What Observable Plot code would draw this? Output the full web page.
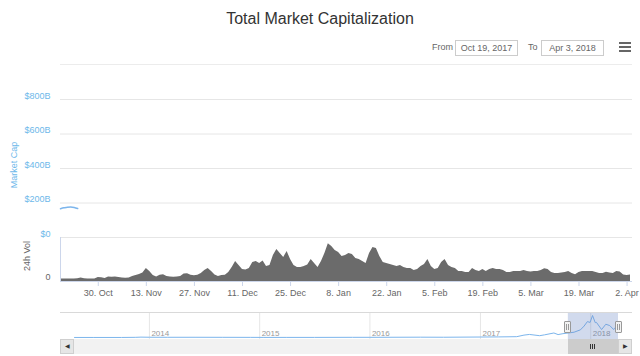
<!DOCTYPE html>
<html><head><meta charset="utf-8">
<script src="https://cdn.jsdelivr.net/npm/d3@7"></script>
<script src="https://cdn.jsdelivr.net/npm/@observablehq/plot@0.6"></script>
<style>
html,body{margin:0;padding:0;background:#fff;}
#chart{position:relative;width:640px;height:356px;overflow:hidden;font-family:"Liberation Sans",Arial,Helvetica,sans-serif;}
#chart svg{position:absolute;left:0;top:0;}
.abs{position:absolute;}
.title{left:0;top:9px;width:640px;text-align:center;font-size:16px;line-height:20px;color:#333;}
.lbl{font-size:9px;color:#666;line-height:15px;}
.box{border:1px solid #ccc;box-sizing:border-box;height:16px;font-size:9px;color:#666;text-align:center;line-height:14px;}
.burger{width:12px;height:2px;background:#666;left:619px;}
.rot{transform:translate(-50%,-50%) rotate(-90deg);font-size:9px;white-space:nowrap;}
</style></head><body><div id="chart"></div>
<script>
// ---- data ----
const rangeStart = "2017-10-19";
const rangeEnd = "2018-04-03";
// daily 24h volume, Oct 19 2017 .. Apr 3 2018 (relative units)
const volume24h = [
2.5,2.4,2.6,2.5,2.4,2.8,3.5,2.8,2.5,2.4,2.6,4.0,3.8,3.0,4.5,4.2,4.6,4.0,3.5,3.3,
3.6,5.0,6.0,7.0,8.5,13.0,10.0,6.0,4.5,6.2,6.7,5.0,4.5,4.3,4.6,5.0,7.5,7.7,6.2,5.8,
6.3,8.0,11.0,13.0,10.0,6.5,5.0,6.0,6.3,9.0,14.0,20.0,16.0,12.0,11.5,13.0,19.0,20.0,18.0,20.5,
15.0,16.0,26.0,32.0,28.0,24.0,30.0,22.0,16.0,14.0,14.0,15.0,16.5,22.0,18.0,14.0,20.0,28.0,37.7,35.0,
31.0,29.0,25.0,26.0,28.0,27.0,23.0,22.0,20.0,18.0,28.0,34.0,33.0,25.0,19.0,18.0,17.0,16.0,15.0,16.0,
14.0,13.0,13.0,11.0,12.0,15.0,17.0,22.0,15.0,12.0,13.0,19.0,22.0,16.0,14.0,13.0,10.0,10.0,9.0,9.0,
13.0,11.0,10.0,12.0,10.0,12.0,13.0,12.0,12.0,11.0,9.0,9.0,10.0,10.0,10.0,11.0,10.0,9.5,10.0,10.0,
11.0,12.7,12.0,9.0,8.0,8.0,8.5,9.0,10.0,8.0,6.7,9.0,10.0,10.0,10.0,10.0,9.0,8.0,8.0,9.3,
8.5,8.0,10.0,9.5,6.5,6.0,6.5];
// visible fragment of the market cap line ($B)
const capDates = ["2017-10-19","2017-10-20","2017-10-21","2017-10-22","2017-10-23","2017-10-24"];
const marketCap = [167,172,176,177,174,168];
const capTicks = [0,200,400,600,800];
const capTickLabels = ["$0","$200B","$400B","$600B","$800B"];
// navigator: full history of total market cap ($B)
const navDates = ["2013-04-28","2013-07-01","2013-10-01","2013-11-15","2013-12-04","2014-01-01","2014-03-01","2014-06-01","2014-09-01","2014-12-01",
"2015-01-15","2015-04-01","2015-07-01","2015-11-04","2016-01-01","2016-06-17","2016-09-01","2016-12-31","2017-03-01","2017-05-01",
"2017-05-25","2017-06-12","2017-07-16","2017-08-01","2017-09-01","2017-09-15","2017-10-01","2017-10-19","2017-11-07","2017-11-28",
"2017-12-10","2017-12-21","2017-12-30","2018-01-07","2018-01-16","2018-01-20","2018-02-06","2018-02-20","2018-03-05","2018-03-18",
"2018-03-21","2018-04-01","2018-04-03"];
const navCap = [1.6,1.2,1.7,6,14,10,8,8.5,6.5,5,
3.5,3.6,4,7,7,12,10,17.7,22,31,
90,115,68,100,170,110,145,170,200,290,
430,600,570,830,560,570,300,500,450,300,
350,250,260];
const dateTicks = ["2017-10-30","2017-11-13","2017-11-27","2017-12-11","2017-12-25","2018-01-08","2018-01-22","2018-02-05","2018-02-19","2018-03-05","2018-03-19","2018-04-02"];
const yearTicks = ["2014","2015","2016","2017","2018"];

// ---- build ----
const P = d3.utcParse("%Y-%m-%d");
const x0 = P(rangeStart), x1 = P(rangeEnd);
const volRows = volume24h.map((v,i)=>({date:d3.utcDay.offset(x0,i), v}));
const capRows = capDates.map((d,i)=>({date:P(d), v:marketCap[i]}));
const navRows = navDates.map((d,i)=>({date:P(d), v:navCap[i]}));
const tickDates = dateTicks.map(P);
const yearDates = yearTicks.map(y=>P(y+"-01-01"));
const BLUE = "#6db8ea";
const base = {width:640,height:356,marginLeft:60,marginRight:8,
  style:{background:"transparent",fontFamily:'"Liberation Sans",Arial,sans-serif',fontSize:"9px",overflow:"visible"}};
const chart = document.getElementById("chart");

const capPlot = Plot.plot({...base, marginTop:99, marginBottom:119,
  x:{type:"utc",domain:[x0,x1],range:[60,630],axis:null},
  y:{domain:[0,800],axis:null},
  marks:[
    Plot.ruleY(capTicks,{stroke:"#e6e6e6",strokeWidth:1}),
    Plot.text(capTicks,{y:d=>d,text:(d,i)=>capTickLabels[i],frameAnchor:"left",dx:-10,dy:-3.5,textAnchor:"end",fill:BLUE}),
    Plot.line(capRows,{x:"date",y:"v",stroke:"#7cb5ec",strokeWidth:1.5,curve:"monotone-x"})
  ]});
chart.appendChild(capPlot);

const volPlot = Plot.plot({...base, marginTop:237, marginBottom:75,
  x:{type:"utc",domain:[x0,x1],range:[60,630],ticks:tickDates,tickFormat:d3.utcFormat("%-d. %b"),tickSize:5,tickPadding:3,label:null},
  y:{domain:[0,44],axis:null},
  marks:[
    Plot.areaY(volRows,{x:"date",y:"v",fill:"#6b6b6b"}),
    Plot.ruleY([0],{stroke:"#ccd6eb"}),
    Plot.ruleX([x0],{stroke:"#ccd6eb"}),
    Plot.text([0],{y:d=>d,text:["0"],frameAnchor:"left",dx:-10,dy:-4,textAnchor:"end",fill:"#666"})
  ]});
volPlot.style.color = "#666";
volPlot.querySelectorAll('[aria-label^="x-axis"] line, [aria-label^="x-axis"] path').forEach(e=>{e.style.stroke="#ccd6eb";});
chart.appendChild(volPlot);

const navPlot = Plot.plot({...base, marginTop:313, marginBottom:17,
  x:{type:"utc",domain:[navRows[0].date,navRows[navRows.length-1].date],range:[74,618],axis:null},
  y:{domain:[0,830],range:[337,315],axis:null},
  marks:[
    Plot.ruleX(yearDates,{stroke:"#e6e6e6"}),
    Plot.text(yearDates,{x:d=>d,text:(d,i)=>yearTicks[i],frameAnchor:"bottom",dx:2,dy:-4,textAnchor:"start",fill:"#999",fontSize:8}),
    Plot.line(navRows,{x:"date",y:"v",stroke:"#7cb5ec",strokeWidth:1}),
    Plot.rect([0],{x1:()=>x0,x2:()=>x1,fill:"#6685c2",fillOpacity:0.3})
  ]});
chart.appendChild(navPlot);

// ---- html chrome ----
function add(cls, css, html){const d=document.createElement("div");d.className="abs "+cls;Object.assign(d.style,css);if(html!=null)d.innerHTML=html;chart.appendChild(d);return d;}
add("title",{},"Total Market Capitalization");
add("lbl",{left:"432px",top:"40px"},"From");
add("box",{left:"455px",top:"40px",width:"63px"},"Oct 19, 2017");
add("lbl",{left:"528px",top:"40px"},"To");
add("box",{left:"541px",top:"40px",width:"63px"},"Apr 3, 2018");
add("burger",{top:"42px"});add("burger",{top:"46px"});add("burger",{top:"50px"});
add("",{left:"60px",top:"64px",width:"572px",height:"1px",background:"#ececec"});
add("rot",{left:"14px",top:"165px",color:BLUE},"Market Cap");
add("rot",{left:"27px",top:"256px",color:"#666"},"24h Vol");
// navigator outline + scrollbar
add("",{left:"60px",top:"312px",width:"572px",height:"1px",background:"#d9d9d9"});
add("",{left:"60px",top:"339px",width:"572px",height:"15px",background:"#f2f2f2"});
const sx = navPlot.scale("x");
const hx0 = sx.apply(x0), hx1 = sx.apply(x1);
add("",{left:"60px",top:"339px",width:"14px",height:"15px",background:"#e6e6e6",border:"1px solid #cfcfcf",boxSizing:"border-box",fontSize:"6px",color:"#333",textAlign:"center",lineHeight:"13px"},"&#9664;");
add("",{left:"618px",top:"339px",width:"14px",height:"15px",background:"#e6e6e6",border:"1px solid #cfcfcf",boxSizing:"border-box",fontSize:"6px",color:"#333",textAlign:"center",lineHeight:"13px"},"&#9654;");
const thumb = add("",{left:hx0+"px",top:"339px",width:(hx1-hx0)+"px",height:"15px",background:"#cccccc"});
const mid = (hx1-hx0)/2;
[-2,0,2].forEach(o=>add("",{left:(hx0+mid+o-0.5)+"px",top:"344px",width:"1px",height:"5px",background:"#333"}));
[hx0,hx1].forEach(h=>{
  add("",{left:(h-3.5)+"px",top:"321px",width:"7px",height:"12px",background:"#f2f2f2",border:"1px solid #999",boxSizing:"border-box",borderRadius:"1px"});
  add("",{left:(h-1.5)+"px",top:"324px",width:"1px",height:"6px",background:"#999"});
  add("",{left:(h+0.5)+"px",top:"324px",width:"1px",height:"6px",background:"#999"});
});
</script></body></html>
